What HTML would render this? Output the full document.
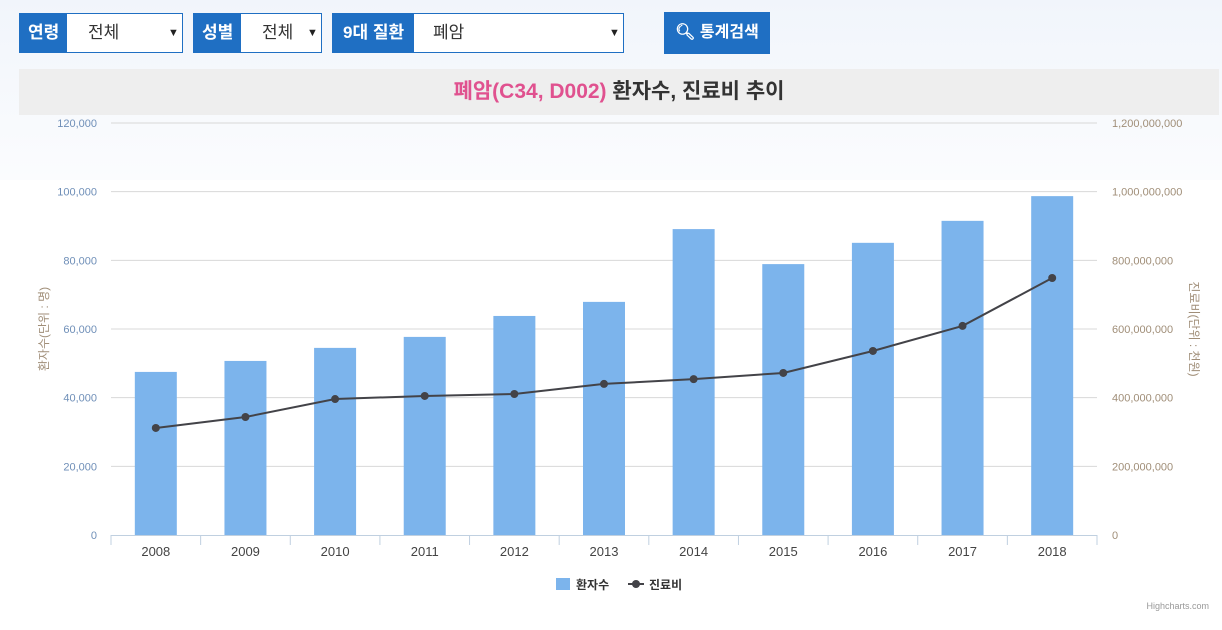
<!DOCTYPE html>
<html><head><meta charset="utf-8"><style>
body{margin:0;width:1222px;height:630px;overflow:hidden;background:#fff;font-family:"Liberation Sans","Noto Sans CJK KR",sans-serif;}
#top{position:absolute;left:0;top:0;width:1222px;height:180px;background:linear-gradient(#f1f5fb,#fbfcfe);}
.grp{position:absolute;top:13px;height:40px;border:1px solid #1f6fc3;background:#fff;box-sizing:border-box;}
.lbl{position:absolute;left:0;top:0;bottom:0;background:#1f6fc3;color:#fff;font-weight:bold;font-size:17px;line-height:38px;padding:0 8px;}
.val{position:absolute;top:0;line-height:38px;font-size:17px;color:#333;}
.arr{position:absolute;top:0;line-height:38px;font-size:11px;color:#222;}
#btn{position:absolute;left:664px;top:12px;width:106px;height:42px;background:#1f6fc3;color:#fff;font-weight:bold;font-size:16px;line-height:42px;text-align:center;}
#band{position:absolute;left:19px;top:69px;width:1200px;height:46px;background:#eeeeee;text-align:center;font-size:21px;font-weight:bold;line-height:46px;color:#333;}
#chart{position:absolute;left:0;top:0;}
</style></head><body>
<div id="top"></div>
<div class="grp" style="left:19px;width:164px"><div class="lbl">연령</div><div class="val" style="left:68px">전체</div><div class="arr" style="left:148px">▼</div></div>
<div class="grp" style="left:193px;width:129px"><div class="lbl">성별</div><div class="val" style="left:68px">전체</div><div class="arr" style="left:113px">▼</div></div>
<div class="grp" style="left:332px;width:292px"><div class="lbl" style="padding:0 10px">9대 질환</div><div class="val" style="left:100px">폐암</div><div class="arr" style="left:276px">▼</div></div>
<div id="btn">&#x1F50D;&#xFE0E; 통계검색</div>
<div id="band"><span style="color:#e0518f">폐암(C34, D002)</span> 환자수, 진료비 추이</div>
<svg id="chart" width="1222" height="630"></svg>
<script>
const categories=["2008","2009","2010","2011","2012","2013","2014","2015","2016","2017","2018"];
const patients=[47500,50700,54500,57700,63800,67900,89100,78900,85100,91500,98700];
const costs=[311700000,343700000,396000000,405000000,410700000,440000000,454000000,472000000,536000000,609000000,748500000];
const leftTicks=[0,20000,40000,60000,80000,100000,120000];
const rightTicks=[0,200000000,400000000,600000000,800000000,1000000000,1200000000];
const svg=document.getElementById('chart');const NS='http://www.w3.org/2000/svg';
const X0=111,X1=1097,YT=123,YB=535;
const cw=(X1-X0)/categories.length;
const yL=v=>YB-(v/120000)*(YB-YT);
const yR=v=>YB-(v/1200000000)*(YB-YT);
const xC=i=>X0+cw*(i+0.5);
function mk(t,a,txt){const e=document.createElementNS(NS,t);for(const k in a)e.setAttribute(k,a[k]);if(txt!==undefined)e.textContent=txt;svg.appendChild(e);return e;}
const fmt=v=>v.toLocaleString('en-US');
leftTicks.forEach((v,i)=>{
 if(v>0){const g=mk('line',{x1:X0,x2:X1,y1:yL(v),y2:yL(v),stroke:'#d8d8d8'});}
 const t=mk('text',{x:97,y:yL(v)+4,'text-anchor':'end','font-size':11,fill:'#6f8fb8'},fmt(v));
 
});
rightTicks.forEach(v=>{
 const t=mk('text',{x:1112,y:yR(v)+4,'font-size':11,fill:'#a08e78'},fmt(v));
 
});
patients.forEach((v,i)=>{
 const r=mk('rect',{x:xC(i)-21,y:yL(v),width:42,height:YB-yL(v),fill:'#7cb4ec'});
 
});
const ax=mk('line',{x1:X0,x2:X1,y1:YB+0.5,y2:YB+0.5,stroke:'#c0d0e0'});

for(let i=0;i<=categories.length;i++){const tk=mk('line',{x1:X0+cw*i,x2:X0+cw*i,y1:YB,y2:YB+10,stroke:'#c0d0e0'});}
categories.forEach((c,i)=>{const t=mk('text',{x:xC(i),y:556,'text-anchor':'middle','font-size':13,fill:'#444'},c);});
const pl=mk('polyline',{points:costs.map((v,i)=>xC(i)+','+yR(v)).join(' '),fill:'none',stroke:'#434348','stroke-width':2});

costs.forEach((v,i)=>{const c=mk('circle',{cx:xC(i),cy:yR(v),r:4,fill:'#434348'});});
let t=mk('text',{x:48,y:329,'text-anchor':'middle','font-size':12,fill:'#a08e78',transform:'rotate(-90 48 329)'},'환자수(단위 : 명)');

t=mk('text',{x:1190,y:329,'text-anchor':'middle','font-size':12,fill:'#a08e78',transform:'rotate(90 1190 329)'},'진료비(단위 : 천원)');

let r=mk('rect',{x:556,y:578,width:14,height:12,fill:'#7cb4ec'});
t=mk('text',{x:576,y:589,'font-size':12,'font-weight':'bold',fill:'#333'},'환자수');
let l=mk('line',{x1:628,x2:644,y1:584,y2:584,stroke:'#434348','stroke-width':2});
let c=mk('circle',{cx:636,cy:584,r:4,fill:'#434348'});
t=mk('text',{x:649,y:589,'font-size':12,'font-weight':'bold',fill:'#333'},'진료비');
t=mk('text',{x:1209,y:609,'text-anchor':'end','font-size':9,fill:'#999'},'Highcharts.com');
</script>
</body></html>
